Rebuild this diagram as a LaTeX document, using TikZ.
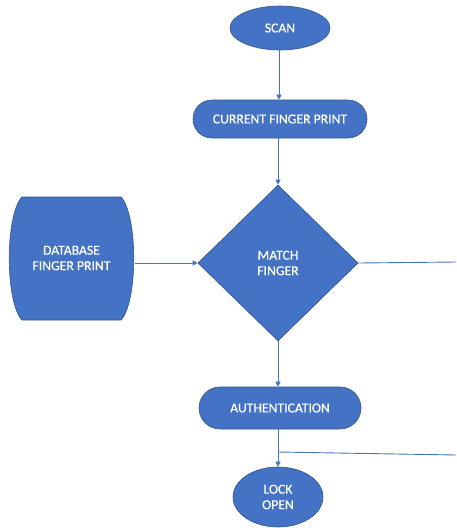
\documentclass[tikz,border=0pt]{standalone}
\usepackage{fontspec}
\setmainfont{Carlito}
\newfontfamily\lblfont{Carlito}[BoldFont=Carlito,BoldFeatures={FakeBold=0.7}]
\usetikzlibrary{shapes.geometric,shapes.misc,arrows.meta}
\definecolor{obl}{HTML}{4472C4}
\definecolor{obd}{HTML}{2F528F}
\tikzset{
  lbl/.style={text=white,font=\lblfont\bfseries\fontsize{13.7}{15.5}\selectfont,align=center,inner sep=0pt},
  blk/.style={lbl,fill=obl,draw=obd,line width=0.6pt},
  stad/.style={blk,rounded rectangle},
  conn/.style={draw=obl,line width=0.9pt},
  arr/.style={conn,-{Triangle[length=5pt,width=5pt]}}
}
\begin{document}
\begin{tikzpicture}[x=1pt,y=-1pt]
\useasboundingbox (0,0) rectangle (456,528);
\node[blk,ellipse,minimum width=100,minimum height=44] (scan) at (280,28) {SCAN};
\node[stad,minimum width=174,minimum height=38] (cfp) at (280,119) {CURRENT FINGER PRINT};
\node[blk,diamond,minimum width=160,minimum height=156] (match) at (278,263) {MATCH\\FINGER};
\node[stad,minimum width=162,minimum height=42] (auth) at (280,408) {AUTHENTICATION};
\node[blk,ellipse,minimum width=90,minimum height=60] (lock) at (278,497) {LOCK\\OPEN};
\node[minimum width=127,minimum height=123,inner sep=0pt] (db) at (71.5,263) {};
\fill[obl,draw=obd,line width=0.6pt] (22,197) -- (121,197) .. controls (138,215) and (138,302) .. (121,320) -- (22,320) .. controls (5,302) and (5,215) .. (22,197) -- cycle;
\node[lbl] (dbt) at (71.5,258) {DATABASE\\FINGER PRINT};
\coordinate (r1) at (456,262);
\coordinate (j2) at (278,452);
\coordinate (r2) at (456,455);
\draw[arr] (scan.south -| 279,0) -- (cfp.north -| 279,0);
\draw[arr] (cfp.south -| 278,0) -- (match.north);
\draw[arr] (db.east) -- (match.west);
\draw[conn] (match.east) -- (r1);
\draw[arr] (match.south) -- (auth.north -| match.south);
\draw[arr] (auth.south -| lock.north) -- (lock.north);
\draw[conn] (j2) -- (r2);
\end{tikzpicture}
\end{document}
